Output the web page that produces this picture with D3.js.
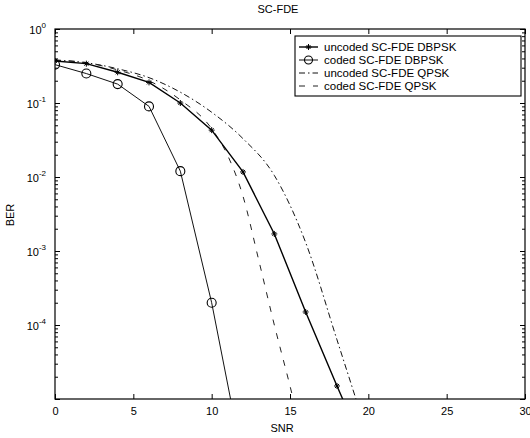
<!DOCTYPE html>
<html>
<head>
<meta charset="utf-8">
<script src="https://cdn.jsdelivr.net/npm/d3@7"></script>
<style>
  body { margin: 0; background: #fff; }
  text { font-family: "Liberation Sans", Arial, sans-serif; fill: #000; }
</style>
</head>
<body>
<div id="chart"></div>
<script>
// data
var snrUncodedDbpsk = [0, 2, 4, 6, 8, 10, 12, 14, 16, 18, 20];
var berUncodedDbpsk = [0.37, 0.34, 0.26, 0.19, 0.10, 0.043, 0.0117, 1.7e-3, 1.5e-4, 1.5e-5, 1.6e-6];

var snrCodedDbpsk = [0, 2, 4, 6, 8, 10, 12];
var berCodedDbpsk = [0.33, 0.25, 0.18, 0.09, 0.012, 2e-4, 1.4e-6];

var snrUncodedQpsk = [0, 2, 4, 6, 8, 10, 12, 14, 16, 18, 20];
var berUncodedQpsk = [0.38, 0.35, 0.29, 0.22, 0.14, 0.075, 0.033, 0.0105, 1.3e-3, 6.3e-5, 3e-6];

var snrCodedQpsk = [0, 2, 4, 6, 8, 10, 11, 12, 13, 14, 15, 16];
var berCodedQpsk = [0.38, 0.35, 0.28, 0.2, 0.11, 0.045, 0.02, 5.5e-3, 7.6e-4, 1e-4, 1.5e-5, 2e-6];

var xTicks = [0, 5, 10, 15, 20, 25, 30];
var yTickExp = [0, -1, -2, -3, -4];
var legendLabels = ["uncoded SC-FDE DBPSK", "coded SC-FDE DBPSK", "uncoded SC-FDE QPSK", "coded SC-FDE QPSK"];

var width = 530, height = 438;
var pLeft = 55, pRight = 525, pTop = 29, pBottom = 399;

var svg = d3.select("#chart").append("svg")
  .attr("width", width)
  .attr("height", height);

var x = d3.scaleLinear().domain([0, 30]).range([pLeft, pRight]);
var y = d3.scaleLog().domain([1e-5, 1]).range([pBottom, pTop]);

svg.append("defs").append("clipPath").attr("id", "clip")
  .append("rect")
  .attr("x", pLeft).attr("y", pTop)
  .attr("width", pRight - pLeft).attr("height", pBottom - pTop);

// ticks: bottom & top
svg.append("g").attr("transform", "translate(0," + pBottom + ")")
  .call(d3.axisBottom(x).tickValues(xTicks).tickSize(-5).tickPadding(8))
  .call(g => g.select(".domain").remove());
svg.append("g").attr("transform", "translate(0," + pTop + ")")
  .call(d3.axisTop(x).tickValues(xTicks).tickSize(-5).tickFormat(""))
  .call(g => g.select(".domain").remove());

// minor log ticks, left and right
var minor = [];
for (var e = -5; e < 0; e++) {
  for (var m = 2; m <= 9; m++) minor.push(m * Math.pow(10, e));
}
var majors = yTickExp.map(d => Math.pow(10, d)).concat([1e-5]);
svg.append("g").attr("transform", "translate(" + pLeft + ",0)")
  .call(d3.axisLeft(y).tickValues(minor).tickSize(-3).tickFormat(""))
  .call(g => g.select(".domain").remove());
svg.append("g").attr("transform", "translate(" + pRight + ",0)")
  .call(d3.axisRight(y).tickValues(minor).tickSize(-3).tickFormat(""))
  .call(g => g.select(".domain").remove());
svg.append("g").attr("transform", "translate(" + pLeft + ",0)")
  .call(d3.axisLeft(y).tickValues(majors).tickSize(-5).tickFormat(""))
  .call(g => g.select(".domain").remove());
svg.append("g").attr("transform", "translate(" + pRight + ",0)")
  .call(d3.axisRight(y).tickValues(majors).tickSize(-5).tickFormat(""))
  .call(g => g.select(".domain").remove());

svg.selectAll(".tick line").attr("stroke", "#000");
svg.selectAll(".tick text").attr("font-size", 11).attr("fill", "#000")
  .style("font-family", "Liberation Sans, Arial, sans-serif");

// y labels as 10^e
var yl = svg.append("g");
yTickExp.forEach(function(e) {
  var t = yl.append("text")
    .attr("x", 46).attr("y", y(Math.pow(10, e)) + 5)
    .attr("text-anchor", "end").attr("font-size", 11);
  t.append("tspan").text("10");
  t.append("tspan").attr("dy", -6).attr("font-size", 8).text(e);
});

// box
svg.append("rect")
  .attr("x", pLeft).attr("y", pTop)
  .attr("width", pRight - pLeft).attr("height", pBottom - pTop)
  .attr("fill", "none").attr("stroke", "#000").attr("stroke-width", 1.2);

var line = d3.line().x(d => x(d[0])).y(d => y(d[1]));
var smooth = d3.line().x(d => x(d[0])).y(d => y(d[1])).curve(d3.curveMonotoneX);
var plot = svg.append("g").attr("clip-path", "url(#clip)");

function pairs(xs, ys) { return xs.map((v, i) => [v, ys[i]]); }

var dUD = pairs(snrUncodedDbpsk, berUncodedDbpsk);
var dCD = pairs(snrCodedDbpsk, berCodedDbpsk);
var dUQ = pairs(snrUncodedQpsk, berUncodedQpsk);
var dCQ = pairs(snrCodedQpsk, berCodedQpsk);

var styles = [
  { w: 1.4, dash: null, color: "#000" },
  { w: 1, dash: null, color: "#111" },
  { w: 1, dash: "6,3,1.5,3", color: "#111" },
  { w: 1, dash: "6,8", color: "#222" }
];

[[dUQ, 2, smooth], [dCQ, 3, smooth], [dCD, 1, line], [dUD, 0, line]].forEach(function(p) {
  var s = styles[p[1]];
  plot.append("path").datum(p[0])
    .attr("d", p[2])
    .attr("fill", "none")
    .attr("stroke", s.color)
    .attr("stroke-width", s.w)
    .attr("stroke-dasharray", s.dash);
});

function star(g, cx, cy) {
  var r = 3;
  g.append("path")
    .attr("d", "M" + (cx - r) + "," + cy + "H" + (cx + r) +
      "M" + cx + "," + (cy - r) + "V" + (cy + r) +
      "M" + (cx - 2) + "," + (cy - 2) + "L" + (cx + 2) + "," + (cy + 2) +
      "M" + (cx - 2) + "," + (cy + 2) + "L" + (cx + 2) + "," + (cy - 2))
    .attr("stroke", "#000").attr("stroke-width", 1);
}

dUD.forEach(function(d) {
  if (d[1] >= 1e-5) star(plot, x(d[0]), y(d[1]));
});
plot.selectAll("circle.cd").data(dCD.filter(d => d[1] >= 1e-5))
  .enter().append("circle")
  .attr("cx", d => x(d[0])).attr("cy", d => y(d[1]))
  .attr("r", 4.5).attr("fill", "none")
  .attr("stroke", "#000").attr("stroke-width", 1.1);

// legend
var lg = svg.append("g");
lg.append("rect")
  .attr("x", 295).attr("y", 36).attr("width", 226).attr("height", 60)
  .attr("fill", "#fff").attr("stroke", "#000").attr("stroke-width", 1.1);
legendLabels.forEach(function(lab, i) {
  var ly = 47 + i * 13;
  var s = styles[i];
  lg.append("line")
    .attr("x1", 299).attr("x2", 318).attr("y1", ly).attr("y2", ly)
    .attr("stroke", s.color).attr("stroke-width", s.w)
    .attr("stroke-dasharray", s.dash);
  if (i === 0) star(lg, 308.5, ly);
  if (i === 1) lg.append("circle").attr("cx", 308.5).attr("cy", ly).attr("r", 4)
    .attr("fill", "none").attr("stroke", "#000").attr("stroke-width", 1.1);
  lg.append("text").attr("x", 324).attr("y", ly + 4)
    .attr("font-size", 11.5).text(lab);
});

// title and axis labels
svg.append("text").attr("x", 278).attr("y", 13)
  .attr("text-anchor", "middle").attr("font-size", 11).text("SC-FDE");
svg.append("text").attr("x", 282).attr("y", 432)
  .attr("text-anchor", "middle").attr("font-size", 11).text("SNR");
svg.append("text")
  .attr("transform", "translate(14," + 215 + ") rotate(-90)")
  .attr("text-anchor", "middle").attr("font-size", 11).text("BER");
</script>
</body>
</html>
